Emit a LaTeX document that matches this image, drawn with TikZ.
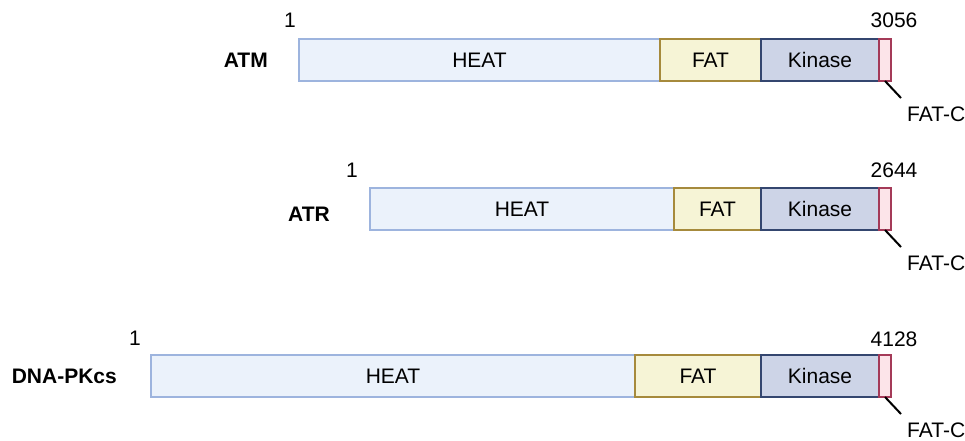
\documentclass[tikz,border=0pt]{standalone}
\usepackage{fontspec}
\setmainfont{Liberation Sans}
\usepackage{tikz}
\usepackage{xcolor}
\usetikzlibrary{positioning}
\definecolor{heatFond}{HTML}{EBF2FB}
\definecolor{heatTrait}{HTML}{9DB4DE}
\definecolor{fatFond}{HTML}{F6F4D6}
\definecolor{fatTrait}{HTML}{A68A3C}
\definecolor{kinFond}{HTML}{CDD4E7}
\definecolor{kinTrait}{HTML}{34466F}
\definecolor{fatcFond}{HTML}{FCE4E9}
\definecolor{fatcTrait}{HTML}{A43A58}
\tikzset{
Domaine/.style={
 draw, 
 line width=2.3pt, 
 minimum height=42pt, 
 inner sep=0pt, 
 outer sep=0pt, 
 font=\fontsize{21}{24}\selectfont
 },
HeatBox/.style={Domaine, draw=heatTrait, fill=heatFond, minimum width=#1},
FatBox/.style={Domaine, draw=fatTrait, fill=fatFond, minimum width=#1},
KinBox/.style={Domaine, draw=kinTrait, fill=kinFond, minimum width=118pt},
FatCBox/.style={Domaine, draw=fatcTrait, fill=fatcFond, minimum width=12pt},
Nom/.style={anchor=east, inner sep=0pt, font=\fontsize{21}{24}\selectfont\bfseries},
Num/.style={inner sep=0pt, font=\fontsize{21}{24}\selectfont},
FatCLab/.style={anchor=north west, inner xsep=6pt, inner ysep=9pt, font=\fontsize{21}{24}\selectfont},
Trait/.style={draw=black, line width=2pt}
}
\begin{document}
\begin{tikzpicture}[x=1pt,y=-1pt]
\useasboundingbox (0,0) rectangle (965,441);
% ATM
\node[HeatBox=361pt, anchor=west] (atmHeat) at (299,60) {HEAT};
\node[FatBox=101pt, right=0pt of atmHeat] (atmFat) {FAT};
\node[KinBox, right=0pt of atmFat] (atmKin) {Kinase};
\node[FatCBox, right=0pt of atmKin] (atmFatC) {};
\node[Nom] (atmNom) at (268,60) {ATM};
\node[Num] (atmDebut) at (290,20.5) {1};
\node[Num] (atmFin) at (894,20.5) {3056};
\node[FatCLab] (atmFatCLab) at (901,98) {FAT-C};
\draw[Trait] (atmFatC.south) -- (atmFatCLab.north west);
% ATR
\node[HeatBox=304pt, anchor=west] (atrHeat) at (370,209) {HEAT};
\node[FatBox=87pt, right=0pt of atrHeat] (atrFat) {FAT};
\node[KinBox, right=0pt of atrFat] (atrKin) {Kinase};
\node[FatCBox, right=0pt of atrKin] (atrFatC) {};
\node[Nom] (atrNom) at (330,214) {ATR};
\node[Num] (atrDebut) at (352,170) {1};
\node[Num] (atrFin) at (894,170) {2644};
\node[FatCLab] (atrFatCLab) at (901,247) {FAT-C};
\draw[Trait] (atrFatC.south) -- (atrFatCLab.north west);
% DNA-PKcs
\node[HeatBox=484pt, anchor=west] (dnaHeat) at (151,376) {HEAT};
\node[FatBox=126pt, right=0pt of dnaHeat] (dnaFat) {FAT};
\node[KinBox, right=0pt of dnaFat] (dnaKin) {Kinase};
\node[FatCBox, right=0pt of dnaKin] (dnaFatC) {};
\node[Nom] (dnaNom) at (117,376) {DNA-PKcs};
\node[Num] (dnaDebut) at (135,338) {1};
\node[Num] (dnaFin) at (894,339) {4128};
\node[FatCLab] (dnaFatCLab) at (901,414) {FAT-C};
\draw[Trait] (dnaFatC.south) -- (dnaFatCLab.north west);
\end{tikzpicture}
\end{document}
